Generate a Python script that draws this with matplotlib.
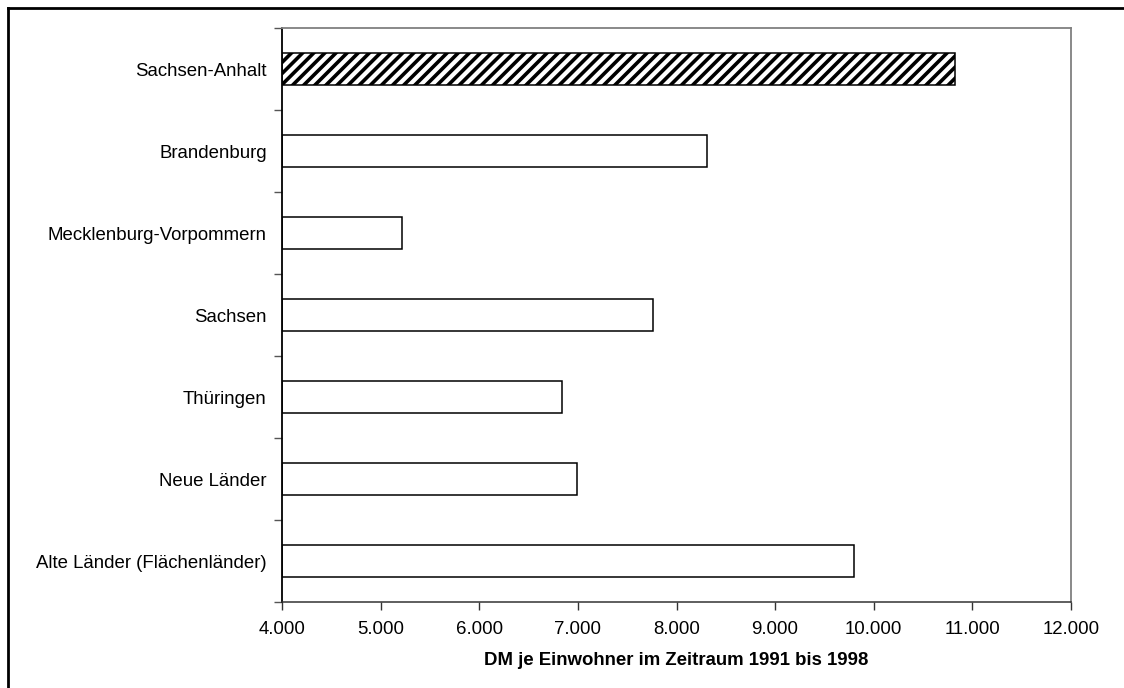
import matplotlib
matplotlib.use('Agg')
import matplotlib.pyplot as plt
from matplotlib.lines import Line2D

plt.rcParams['font.family'] = ['Liberation Sans', 'DejaVu Sans']
plt.rcParams['font.size'] = 13.4
plt.rcParams['hatch.linewidth'] = 2.6

# DM je Einwohner, 1991-1998
laender = ['Sachsen-Anhalt', 'Brandenburg', 'Mecklenburg-Vorpommern', 'Sachsen',
           'Thüringen', 'Neue Länder', 'Alte Länder (Flächenländer)']
werte = [10825, 8310, 5215, 7765, 6840, 6990, 9800]
xticks = [4000, 5000, 6000, 7000, 8000, 9000, 10000, 11000, 12000]
xlabels = ['4.000', '5.000', '6.000', '7.000', '8.000', '9.000', '10.000', '11.000', '12.000']

fig = plt.figure(figsize=(11.24, 6.88), dpi=100)
ax = fig.add_axes([282 / 1124, 1 - 602 / 688, (1071 - 282) / 1124, (602 - 28) / 688])

x0 = xticks[0]
pos = list(range(len(laender)))
for i, (name, w) in enumerate(zip(laender, werte)):
    hatch = '///' if i == 0 else None
    ax.barh(i, w - x0, left=x0, height=0.4, color='white', edgecolor='black',
            linewidth=1.1, hatch=hatch, zorder=2)

ax.set_xlim(xticks[0], xticks[-1])
ax.set_ylim(len(laender) - 0.5, -0.5)
ax.set_xticks(xticks)
ax.set_xticklabels(xlabels)
ax.set_yticks(pos)
ax.set_yticklabels(laender)
ax.set_yticks([p - 0.5 for p in range(len(laender) + 1)], minor=True)

ax.tick_params(axis='y', which='major', length=0, pad=11)
ax.tick_params(axis='y', which='minor', length=6, width=1, color='#555555', direction='out')
ax.tick_params(axis='x', which='major', length=6, width=1, color='#333333',
               direction='out', pad=8)

ax.spines['left'].set_color('black')
ax.spines['left'].set_linewidth(1.3)
ax.spines['bottom'].set_color('#333333')
ax.spines['bottom'].set_linewidth(1.1)
for s in ('top', 'right'):
    ax.spines[s].set_color('#808080')
    ax.spines[s].set_linewidth(1.3)

ax.set_xlabel('DM je Einwohner im Zeitraum 1991 bis 1998', fontweight='bold', labelpad=10)

# Rahmen um die Grafik
fig.add_artist(Line2D([7.5 / 1124, 7.5 / 1124], [0, 1 - 7.5 / 688],
                      transform=fig.transFigure, color='black', linewidth=2))
fig.add_artist(Line2D([7.5 / 1124, 1], [1 - 7.5 / 688, 1 - 7.5 / 688],
                      transform=fig.transFigure, color='black', linewidth=2))

fig.savefig('out.png', dpi=100)
